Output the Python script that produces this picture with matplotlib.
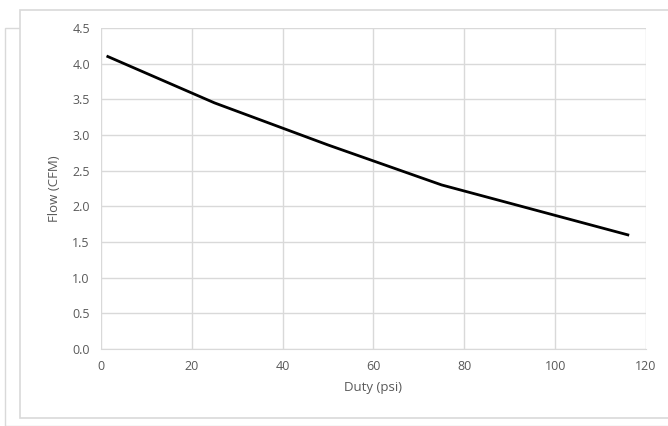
import matplotlib
matplotlib.use("Agg")
import matplotlib.pyplot as plt
from matplotlib.patches import Rectangle

# data
duty = [1.5, 25, 50, 75, 116]
flow = [4.1, 3.45, 2.86, 2.3, 1.6]
x_ticks = [0, 20, 40, 60, 80, 100, 120]
y_ticks = [0.0, 0.5, 1.0, 1.5, 2.0, 2.5, 3.0, 3.5, 4.0, 4.5]

W, H = 668, 426
plt.rcParams['font.family'] = ['Open Sans', 'DejaVu Sans']
fig = plt.figure(figsize=(W / 100, H / 100), dpi=100)

# card frames behind the chart
fig.patches.append(Rectangle((5 / W, 0), 1, 1 - 28 / H, transform=fig.transFigure,
                             fill=False, edgecolor='#d9d9d9', linewidth=1, zorder=-2))
fig.patches.append(Rectangle((20 / W, 1 - 418 / H), 1, (418 - 10) / H, transform=fig.transFigure,
                             facecolor='white', edgecolor='#d9d9d9', linewidth=1.2, zorder=-1))

left, right, top, bottom = 101, 646, 28, 349
ax = fig.add_axes([left / W, 1 - bottom / H, (right - left) / W, (bottom - top) / H])
ax.patch.set_alpha(0)
ax.plot(duty, flow, color='black', linewidth=2)

ax.set_xlim(0, 120)
ax.set_ylim(0, 4.5)
ax.set_xticks(x_ticks)
ax.set_yticks(y_ticks)
ax.set_yticklabels([f"{v:.1f}" for v in y_ticks])
ax.grid(True, color='#d9d9d9', linewidth=1)
ax.set_axisbelow(True)
for s in ['top', 'right', 'left']:
    ax.spines[s].set_visible(False)
ax.spines['bottom'].set_color('#d9d9d9')
ax.tick_params(length=0, labelsize=9, colors='#595959', pad=8)
ax.set_xlabel('Duty (psi)', fontsize=9.5, color='#595959', labelpad=6)
ax.set_ylabel('Flow (CFM)', fontsize=9.5, color='#595959', labelpad=8)

plt.savefig("out.png", dpi=100)
